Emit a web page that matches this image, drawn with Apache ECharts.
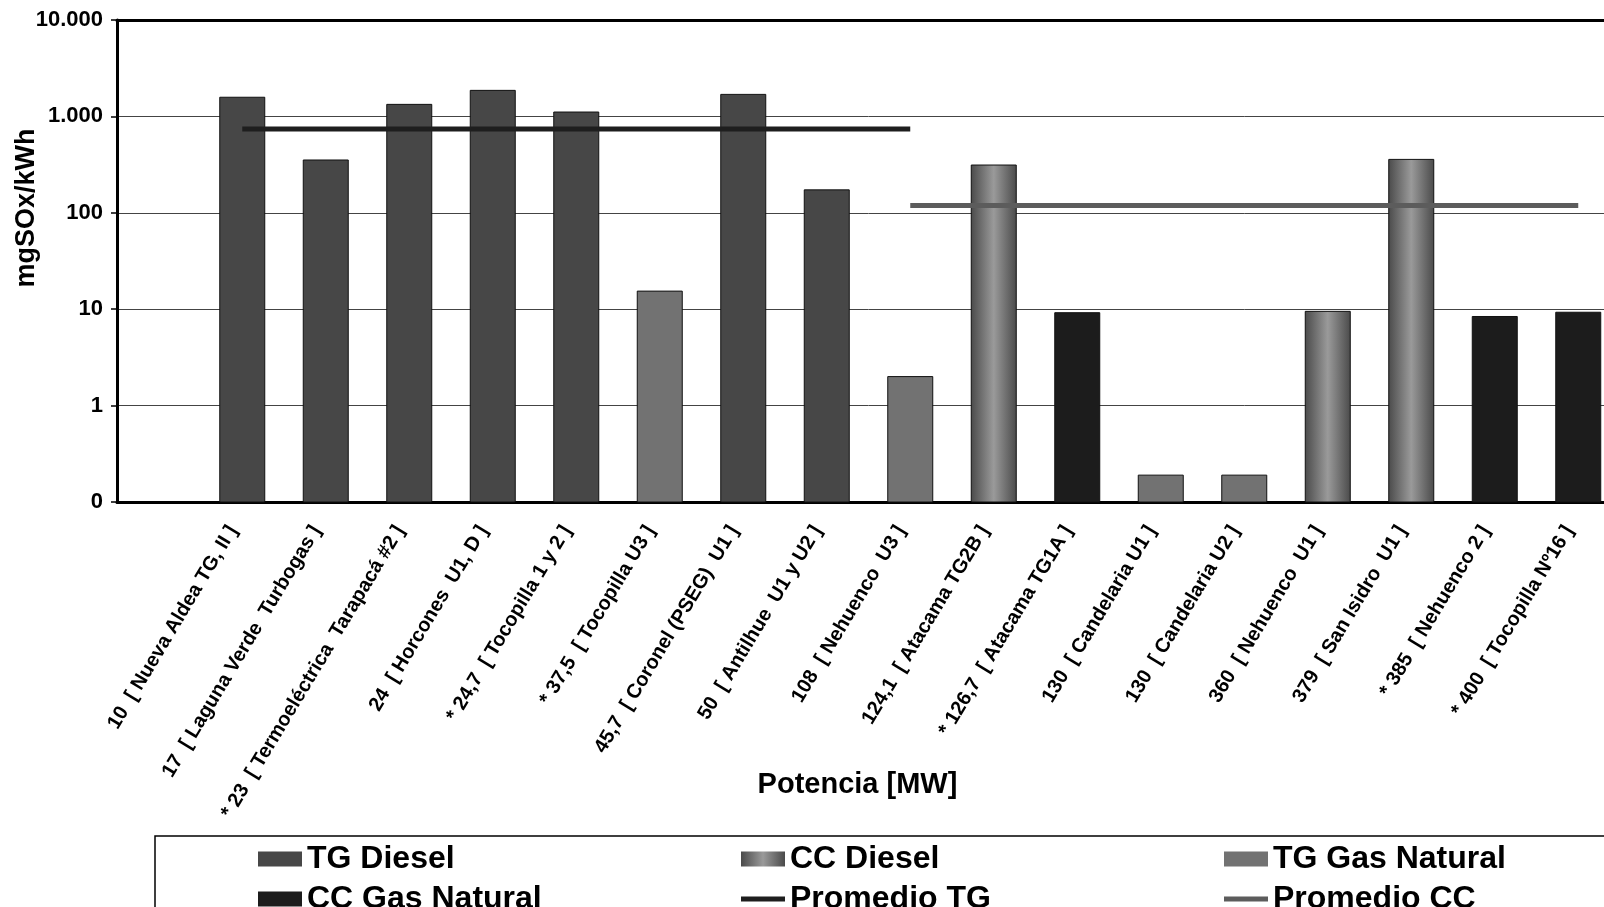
<!DOCTYPE html>
<html>
<head>
<meta charset="utf-8">
<script src="https://cdn.jsdelivr.net/npm/echarts@6/dist/echarts.min.js"></script>
<style>
html, body { margin: 0; padding: 0; background: #fff; overflow: hidden; }
#chart { width: 1620px; height: 907px; }
</style>
</head>
<body>
<div id="chart"></div>
<script>
// categorias (potencia MW + central); la primera queda vacia como en el original
var categorias = [
	'',
	'10  [ Nueva Aldea TG, II ]',
	'17  [ Laguna Verde  Turbogas ]',
	'* 23  [ Termoeléctrica  Tarapacá #2 ]',
	'24  [ Horcones  U1, D ]',
	'* 24,7  [ Tocopilla 1 y 2 ]',
	'* 37,5  [ Tocopilla U3 ]',
	'45,7  [ Coronel (PSEG)  U1 ]',
	'50  [ Antilhue  U1 y U2 ]',
	'108  [ Nehuenco  U3 ]',
	'124,1  [ Atacama TG2B ]',
	'* 126,7  [ Atacama TG1A ]',
	'130  [ Candelaria U1 ]',
	'130  [ Candelaria U2 ]',
	'360  [ Nehuenco  U1 ]',
	'379  [ San Isidro  U1 ]',
	'* 385  [ Nehuenco 2 ]',
	'* 400  [ Tocopilla Nº16 ]'
];

// mgSOx/kWh
var valores = [null, 1580, 353, 1333, 1862, 1110, 15.4, 1692, 173, 2.0, 313, 9.2, 0.19, 0.19, 9.5, 358, 8.4, 9.3];

var tipos = ['', 'TG Diesel', 'TG Diesel', 'TG Diesel', 'TG Diesel', 'TG Diesel', 'TG Gas Natural',
	'TG Diesel', 'TG Diesel', 'TG Gas Natural', 'CC Diesel', 'CC Gas Natural', 'TG Gas Natural',
	'TG Gas Natural', 'CC Diesel', 'CC Diesel', 'CC Gas Natural', 'CC Gas Natural'];

var promedioTG = [null, 741, 741, 741, 741, 741, 741, 741, 741, 741, null, null, null, null, null, null, null, null];
var promedioCC = [null, null, null, null, null, null, null, null, null, 119, 119, 119, 119, 119, 119, 119, 119, 119];

var ticksY = [0.1, 1, 10, 100, 1000, 10000];
var etiquetasY = ['0', '1', '10', '100', '1.000', '10.000'];

var tiposBarra = ['TG Diesel', 'CC Diesel', 'TG Gas Natural', 'CC Gas Natural'];

var fuente = 'Arial, "Liberation Sans", sans-serif';

var coloresBarra = {
	'TG Diesel': '#474747',
	'CC Diesel': {
		type: 'linear', x: 0, y: 0, x2: 1, y2: 0,
		colorStops: [
			{ offset: 0, color: '#4a4a4a' },
			{ offset: 0.5, color: '#9a9a9a' },
			{ offset: 1, color: '#4a4a4a' }
		]
	},
	'TG Gas Natural': '#727272',
	'CC Gas Natural': '#1c1c1c'
};

var chart = echarts.init(document.getElementById('chart'));

// barras dibujadas desde el minimo del eje log (0,1) hasta el valor
function barraLog(tipo) {
	return function (params, api) {
		var v = api.value(1);
		if (v == null || isNaN(v)) return;
		var arriba = api.coord([api.value(0), v]);
		var base = api.coord([api.value(0), ticksY[0]]);
		var w = 45;
		return {
			type: 'rect',
			shape: { x: arriba[0] - w / 2, y: arriba[1], width: w, height: base[1] - arriba[1] },
			style: { fill: coloresBarra[tipo], stroke: '#111', lineWidth: 1 }
		};
	};
}

var series = tiposBarra.map(function (t) {
	var datos = [];
	valores.forEach(function (v, i) {
		if (tipos[i] === t) datos.push([i, v]);
	});
	return {
		name: t,
		type: 'custom',
		renderItem: barraLog(t),
		itemStyle: { color: coloresBarra[t] },
		encode: { x: 0, y: 1 },
		data: datos,
		z: 2
	};
});

series.push({
	name: 'Promedio TG',
	type: 'line',
	symbol: 'none',
	lineStyle: { color: '#1e1e1e', width: 5 },
	itemStyle: { color: '#1e1e1e' },
	data: promedioTG,
	z: 5
});
series.push({
	name: 'Promedio CC',
	type: 'line',
	symbol: 'none',
	lineStyle: { color: '#5c5c5c', width: 5 },
	itemStyle: { color: '#5c5c5c' },
	data: promedioCC,
	z: 5
});

var iconoLinea = 'path://M0,0L44,0L44,5L0,5Z';

var option = {
	animation: false,
	backgroundColor: '#fff',
	textStyle: { fontFamily: fuente },
	grid: { left: 117, top: 20, right: 0, height: 482 },
	legend: {
		left: 155,
		top: 836,
		width: 1460,
		padding: [7, 200, 20, 103],
		borderColor: '#000',
		borderWidth: 1.5,
		itemWidth: 44,
		itemHeight: 15,
		itemGap: 8,
		data: [
			{ name: 'TG Diesel', icon: 'rect' },
			{ name: 'CC Diesel', icon: 'rect' },
			{ name: 'TG Gas Natural', icon: 'rect' },
			{ name: 'CC Gas Natural', icon: 'rect' },
			{ name: 'Promedio TG', icon: iconoLinea },
			{ name: 'Promedio CC', icon: iconoLinea }
		],
		formatter: function (n) { return '{a|' + n + '}'; },
		textStyle: {
			rich: {
				a: { width: 426, fontSize: 32, fontWeight: 'bold', fontFamily: fuente, color: '#000', lineHeight: 26 }
			}
		}
	},
	xAxis: [{
		type: 'category',
		data: categorias,
		name: 'Potencia [MW]',
		nameLocation: 'middle',
		nameGap: 268,
		nameMoveOverlap: false,
		nameTextStyle: { fontSize: 29, fontWeight: 'bold', color: '#000', padding: [0, 22, 0, 0] },
		axisLine: { lineStyle: { color: '#000', width: 3 } },
		axisTick: { length: 6, lineStyle: { color: '#000', width: 1.5 } },
		axisLabel: {
			interval: 0,
			rotate: 59,
			margin: 10,
			padding: [0, 18, 0, 0],
			fontSize: 20,
			fontWeight: 'bold',
			color: '#000'
		}
	}, {
		type: 'category',
		data: categorias,
		position: 'top',
		axisLine: { lineStyle: { color: '#000', width: 3 } },
		axisTick: { show: false },
		axisLabel: { show: false }
	}],
	yAxis: {
		type: 'log',
		logBase: 10,
		min: 0.1,
		max: 10000,
		axisLine: { show: true, lineStyle: { color: '#000', width: 3 } },
		axisTick: { show: true, length: 6, lineStyle: { color: '#000', width: 1.5 } },
		axisLabel: {
			margin: 14,
			fontSize: 22,
			fontWeight: 'bold',
			color: '#000',
			formatter: function (v) {
				for (var i = 0; i < ticksY.length; i++) {
					if (Math.abs(Math.log10(v) - Math.log10(ticksY[i])) < 1e-6) return etiquetasY[i];
				}
				return '';
			}
		},
		splitLine: { lineStyle: { color: '#444', width: 1 } }
	},
	graphic: [{
		type: 'text',
		x: 27,
		y: 208,
		rotation: Math.PI / 2,
		style: {
			text: 'mgSOx/kWh',
			font: 'bold 27px ' + fuente,
			fill: '#000',
			textAlign: 'center',
			textVerticalAlign: 'middle'
		}
	}],
	series: series
};

chart.setOption(option);
</script>
</body>
</html>
